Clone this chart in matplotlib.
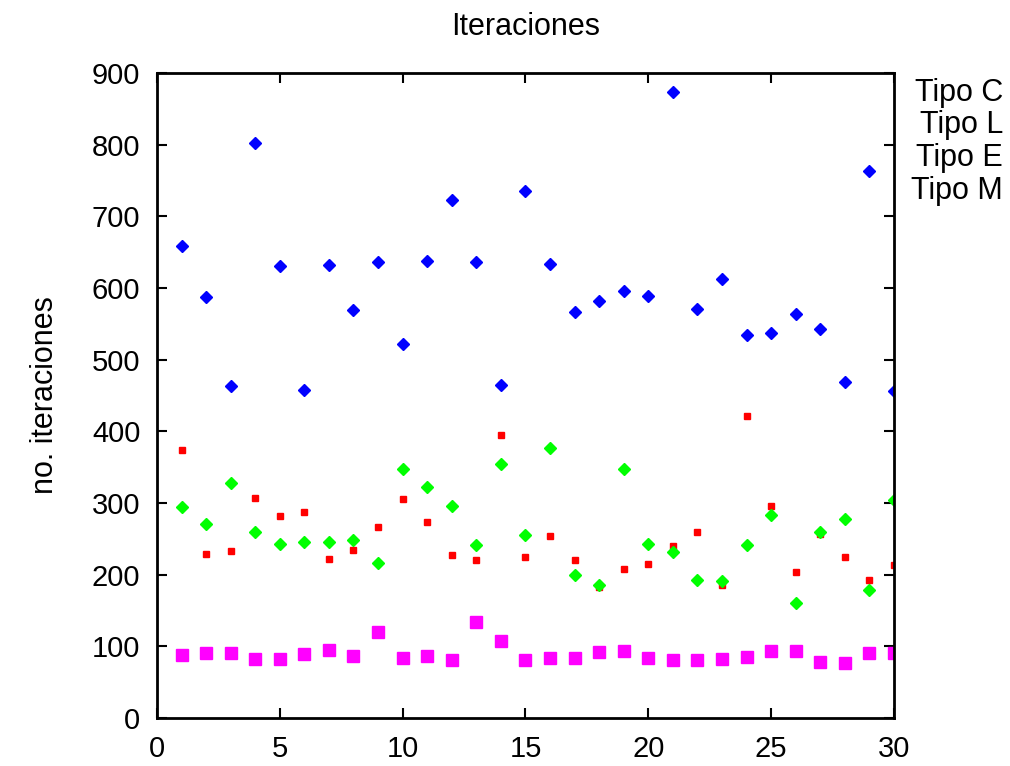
import numpy as np
import matplotlib
matplotlib.use('Agg')
import matplotlib.pyplot as plt

plt.rcParams['font.family'] = ['Liberation Sans', 'DejaVu Sans']

runs = np.arange(1, 31)

tipo_c = [658, 587, 463, 803, 630, 457, 632, 569, 636, 522,
          637, 723, 636, 465, 735, 633, 566, 582, 596, 589,
          873, 571, 612, 535, 537, 564, 543, 469, 763, 456]
tipo_l = [374, 229, 233, 307, 282, 288, 222, 234, 267, 306,
          273, 228, 220, 395, 224, 254, 221, 183, 208, 215,
          240, 259, 186, 422, 296, 204, 257, 225, 193, 214]
tipo_e = [294, 270, 328, 259, 243, 245, 245, 249, 216, 348,
          322, 296, 241, 354, 256, 377, 200, 186, 348, 243,
          232, 193, 191, 242, 283, 160, 259, 277, 179, 304]
tipo_m = [88, 91, 91, 82, 82, 89, 95, 87, 120, 83,
          86, 81, 134, 108, 81, 84, 84, 92, 93, 83,
          81, 81, 82, 85, 93, 94, 78, 77, 90, 91]

labels = ['Tipo C', 'Tipo L', 'Tipo E', 'Tipo M']

fig = plt.figure(figsize=(10.1, 7.66), dpi=100)
ax = fig.add_axes([0.1554, 0.0627, 0.7297, 0.842])

ax.plot(runs, tipo_c, 'D', color='#0000ff', ms=6, mec='#0000ff', ls='none')
ax.plot(runs, tipo_l, 's', color='#ff0000', ms=4.8, mec='#ff0000', ls='none')
ax.plot(runs, tipo_e, 'D', color='#00ff00', ms=6, mec='#00ff00', ls='none')
ax.plot(runs, tipo_m, 's', color='#ff00ff', ms=8, mec='#ff00ff', ls='none')

ax.set_xlim(0, 30)
ax.set_ylim(0, 900)
ax.set_xticks(range(0, 31, 5))
ax.set_yticks(range(0, 901, 100))
ax.tick_params(direction='in', length=7, width=1.5, top=True, right=True,
               labelsize=21, pad=12)
for s in ax.spines.values():
    s.set_linewidth(2)

ax.set_title('Iteraciones', fontsize=22, pad=27)
ax.set_ylabel('no. iteraciones', fontsize=22, labelpad=23)

for i, lab in enumerate(labels):
    fig.text(1003 / 1010, 1 - (93 + i * 32.5) / 766, lab, ha='right', va='center',
             fontsize=22)

fig.savefig('out.png', dpi=100)
